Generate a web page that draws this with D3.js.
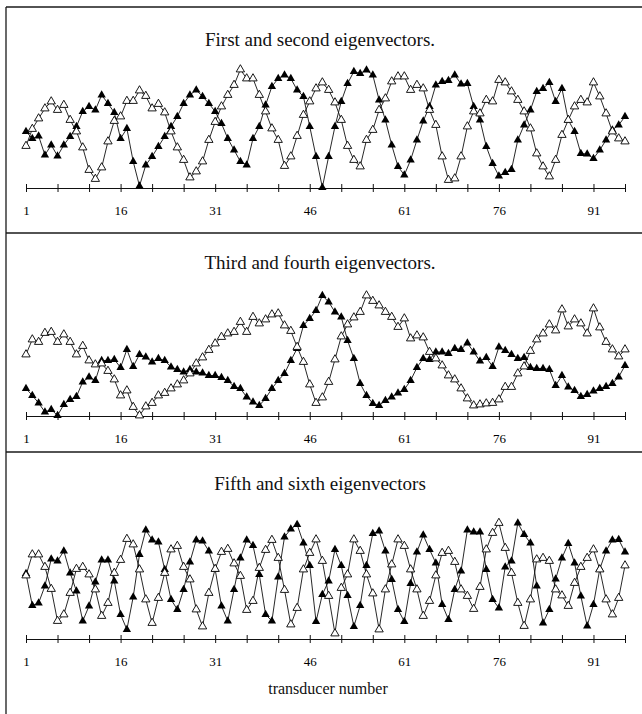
<!DOCTYPE html>
<html>
<head>
<meta charset="utf-8">
<script src="https://cdn.jsdelivr.net/npm/d3@7"></script>
<style>
  body { margin: 0; background: #fff; }
  text { font-family: "Liberation Serif", "Times New Roman", serif; fill: #111; }
</style>
</head>
<body>
<svg id="chart" width="642" height="714"></svg>
<script>
// transducer positions 1..96
const transducers = d3.range(1, 97);
const tickValues = d3.range(1, 97, 5);
const tickLabels = [1, 16, 31, 46, 61, 76, 91];

const titles = [
    "First and second eigenvectors.",
    "Third and fourth eigenvectors.",
    "Fifth and sixth eigenvectors"
];
const xTitle = "transducer number";

// eigenvector components (relative units)
const ev1 = [0.13, -0.01, 0.04, -0.34, -0.14, -0.36, -0.14, 0.03, 0.23, 0.53,
    0.63, 0.56, 0.86, 0.69, 0.51, -0.01, 0.19, -0.47, -0.96, -0.54,
    -0.37, -0.17, 0.03, 0.23, 0.43, 0.69, 0.86, 0.96, 0.83, 0.69,
    0.53, 0.29, -0.01, -0.24, -0.47, -0.54, -0.01, 0.23, 0.66, 1.03,
    1.19, 1.26, 1.19, 0.96, 0.83, 0.23, -0.37, -0.99, -0.37, 0.23,
    0.73, 1.09, 1.33, 1.29, 1.36, 1.26, 0.76, 0.36, -0.14, -0.57,
    -0.74, -0.44, -0.04, 0.34, 0.63, 1.06, 1.13, 1.15, 1.26, 1.08,
    1.09, 0.63, 0.36, -0.17, -0.51, -0.76, -0.69, -0.63, -0.04, 0.26,
    0.56, 0.93, 0.99, 1.11, 0.73, 0.99, 0.36, 0.13, -0.31, -0.32,
    -0.41, -0.24, -0.04, 0.16, 0.26, 0.43];
const ev2 = [-0.16, 0.18, 0.39, 0.59, 0.73, 0.56, 0.66, 0.36, 0.13, -0.19,
    -0.64, -0.82, -0.59, -0.07, 0.34, 0.43, 0.74, 0.74, 0.95, 0.84,
    0.59, 0.68, 0.51, 0.13, -0.19, -0.44, -0.79, -0.67, -0.47, -0.04,
    0.32, 0.63, 0.86, 1.06, 1.37, 1.19, 1.19, 0.86, 0.53, 0.19,
    -0.04, -0.56, -0.37, 0.04, 0.46, 0.73, 0.99, 1.11, 0.96, 0.71,
    0.36, -0.16, -0.44, -0.57, -0.04, 0.16, 0.56, 0.79, 1.13, 1.23,
    1.23, 0.96, 1.06, 0.99, 0.56, 0.26, -0.37, -0.84, -0.81, -0.37,
    0.23, 0.53, 0.49, 0.76, 0.73, 1.16, 1.11, 0.93, 0.76, 0.53,
    0.19, -0.31, -0.57, -0.77, -0.44, 0.06, 0.36, 0.63, 0.76, 0.71,
    1.11, 0.83, 0.49, 0.13, -0.01, -0.07];
const ev3 = [-0.45, -0.59, -0.74, -0.92, -0.87, -0.99, -0.77, -0.67, -0.61, -0.32,
    -0.22, -0.29, 0.11, 0.11, 0.13, -0.03, 0.33, -0.01, 0.23, 0.18,
    0.08, 0.15, 0.11, -0.02, -0.07, -0.12, -0.07, -0.12, -0.14, -0.19,
    -0.19, -0.23, -0.29, -0.41, -0.45, -0.62, -0.72, -0.79, -0.65, -0.45,
    -0.29, -0.15, 0.11, 0.35, 0.81, 0.95, 1.11, 1.41, 1.28, 1.08,
    0.98, 0.51, 0.15, -0.35, -0.59, -0.75, -0.79, -0.69, -0.62, -0.54,
    -0.47, -0.29, -0.03, 0.15, 0.13, 0.28, 0.28, 0.25, 0.35, 0.33,
    0.46, 0.28, 0.10, 0.17, -0.01, 0.38, 0.31, 0.23, 0.15, 0.17,
    -0.03, -0.05, -0.05, -0.07, -0.39, -0.19, -0.42, -0.49, -0.61, -0.57,
    -0.50, -0.45, -0.41, -0.35, -0.22, 0.01];
const ev4 = [0.23, 0.53, 0.48, 0.66, 0.68, 0.48, 0.63, 0.48, 0.23, 0.40,
    0.11, 0.03, 0.05, -0.10, -0.27, -0.59, -0.49, -0.82, -0.99, -0.81,
    -0.74, -0.59, -0.54, -0.45, -0.37, -0.29, -0.15, 0.05, 0.17, 0.32,
    0.45, 0.58, 0.65, 0.68, 0.88, 0.68, 0.98, 0.85, 0.93, 1.03,
    1.05, 0.81, 0.70, 0.38, 0.08, -0.37, -0.74, -0.63, -0.32, 0.13,
    0.59, 0.83, 0.97, 1.08, 1.41, 1.30, 1.21, 1.08, 0.98, 0.78,
    0.95, 0.55, 0.61, 0.57, 0.28, 0.15, 0.01, -0.19, -0.27, -0.45,
    -0.65, -0.79, -0.77, -0.75, -0.74, -0.67, -0.42, -0.42, -0.15, -0.01,
    0.30, 0.53, 0.65, 0.83, 0.71, 1.13, 0.79, 0.93, 0.85, 0.65,
    1.15, 0.77, 0.48, 0.33, 0.19, 0.33];
const ev5 = [0.31, -0.33, -0.28, 0.06, 0.60, 0.56, 0.76, 0.32, -0.04, -0.64,
    -0.34, 0.14, 0.58, 0.58, 0.16, -0.51, -0.81, -0.16, 0.69, 1.18,
    0.98, 0.94, 0.39, -0.21, -0.41, -0.01, 0.54, 0.98, 0.96, 0.76,
    0.39, -0.34, -0.64, -0.01, 0.62, 0.98, 0.87, 0.29, -0.51, -0.64,
    0.24, 1.04, 1.20, 1.29, 0.92, 0.47, -0.65, -0.11, 0.16, 0.79,
    0.47, -0.13, -0.75, -0.33, 0.47, 1.11, 1.16, 0.76, 0.19, -0.41,
    -0.65, 0.11, 0.74, 1.08, 0.79, 0.52, -0.31, -0.61, -0.01, 0.36,
    1.18, 1.14, 1.14, 0.39, -0.21, -0.38, 0.44, 0.56, 1.32, 1.09,
    0.92, 0.06, -0.68, -0.41, 0.20, 0.62, 0.91, 0.52, -0.14, -0.74,
    -0.31, 0.40, 0.76, 0.98, 0.99, 0.74];
const ev6 = [0.27, 0.69, 0.69, 0.44, 0.00, -0.64, -0.51, -0.08, 0.40, 0.44,
    0.29, -0.01, -0.54, -0.28, 0.32, 0.58, 1.00, 0.89, 0.39, -0.21,
    -0.68, -0.18, 0.32, 0.79, 0.86, 0.44, 0.19, -0.41, -0.75, -0.08,
    0.40, 0.74, 0.80, 0.51, 0.26, -0.42, -0.24, 0.42, 0.78, 0.98,
    0.62, -0.02, -0.71, -0.38, 0.39, 0.72, 0.99, 0.56, -0.14, -0.89,
    0.02, 0.29, 0.99, 0.76, 0.29, -0.09, -0.81, -0.01, 0.49, 0.99,
    0.86, 0.39, -0.01, -0.54, -0.24, 0.27, 0.72, 0.76, 0.54, -0.01,
    -0.14, -0.40, 0.04, 0.79, 1.12, 1.32, 0.82, 0.32, -0.28, -0.74,
    -0.21, 0.59, 0.62, 0.56, -0.01, -0.13, -0.34, 0.12, 0.44, 0.62,
    0.79, 0.39, -0.21, -0.51, -0.18, 0.47];

const svg = d3.select("#chart");

// layout of the three stacked panels
const panels = [
    {title: titles[0], filled: ev1, open: ev2, axisY: 188, titleY: 46},
    {title: titles[1], filled: ev3, open: ev4, axisY: 416, titleY: 269},
    {title: titles[2], filled: ev5, open: ev6, axisY: 639, titleY: 490}
];

const x = d3.scaleLinear().domain([1, 96]).range([26, 625]);

// frame lines
const frame = svg.append("g").attr("stroke", "#1a1a1a").attr("stroke-width", 1.3);
frame.append("line").attr("x1", 6).attr("y1", 7).attr("x2", 642).attr("y2", 7);
frame.append("line").attr("x1", 6).attr("y1", 7).attr("x2", 6).attr("y2", 714);
frame.append("line").attr("x1", 6).attr("y1", 233).attr("x2", 642).attr("y2", 233);
frame.append("line").attr("x1", 6).attr("y1", 452).attr("x2", 642).attr("y2", 452);

const tri = d3.symbol().type(d3.symbolTriangle).size(30);

panels.forEach(p => {
    const y = d3.scaleLinear().domain([-1, 1.5]).range([p.axisY, p.axisY - 125]);
    const g = svg.append("g");

    g.append("text")
        .attr("x", 320)
        .attr("y", p.titleY)
        .attr("text-anchor", "middle")
        .style("font-size", "19px")
        .text(p.title);

    // axis with ticks crossing the line
    const axis = g.append("g")
        .attr("transform", `translate(0,${p.axisY})`)
        .call(d3.axisBottom(x)
            .tickValues(tickValues)
            .tickSizeInner(4)
            .tickSizeOuter(0)
            .tickPadding(14)
            .tickFormat(d => tickLabels.includes(d) ? d : ""));
    axis.select(".domain").attr("stroke", "#111").attr("stroke-width", 1.2);
    axis.selectAll(".tick line").attr("y1", -4).attr("y2", 4).attr("stroke", "#111");
    axis.selectAll(".tick text")
        .style("font-family", "'Liberation Serif', serif")
        .style("font-size", "13px")
        .style("fill", "#000");

    const line = d3.line()
        .x((d, i) => x(transducers[i]))
        .y(d => y(d));

    [p.filled, p.open].forEach(series => {
        g.append("path")
            .datum(series)
            .attr("fill", "none")
            .attr("stroke", "#111")
            .attr("stroke-width", 0.9)
            .attr("d", line);
    });

    g.append("g").selectAll("path")
        .data(p.filled)
        .join("path")
        .attr("d", tri)
        .attr("transform", (d, i) => `translate(${x(transducers[i])},${y(d)})`)
        .attr("fill", "#000");

    g.append("g").selectAll("path")
        .data(p.open)
        .join("path")
        .attr("d", tri)
        .attr("transform", (d, i) => `translate(${x(transducers[i])},${y(d)})`)
        .attr("fill", "#fff")
        .attr("stroke", "#000")
        .attr("stroke-width", 0.9);
});

svg.append("text")
    .attr("x", 328)
    .attr("y", 694)
    .attr("text-anchor", "middle")
    .style("font-size", "16px")
    .text(xTitle);
</script>
</body>
</html>
